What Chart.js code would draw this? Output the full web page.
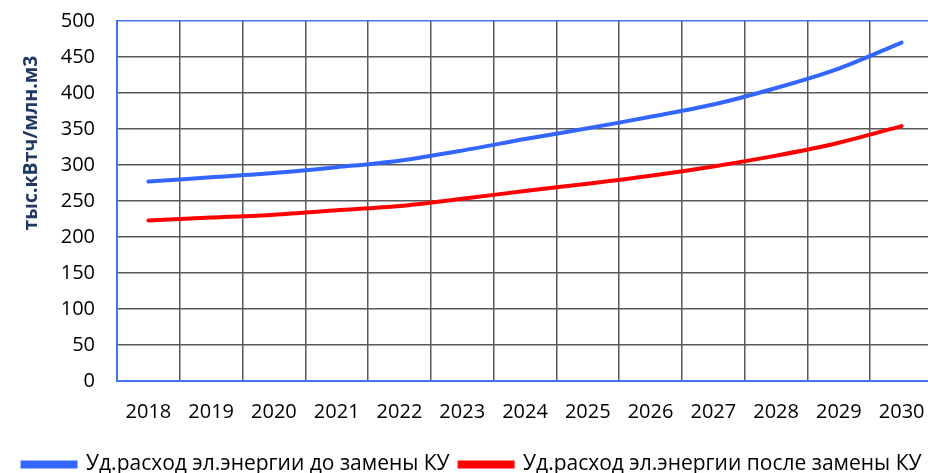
<!DOCTYPE html>
<html>
<head>
<meta charset="utf-8">
<script src="https://cdn.jsdelivr.net/npm/chart.js@4.4.0/dist/chart.umd.min.js"></script>
<style>
  html, body { margin: 0; padding: 0; background: #fff; overflow: hidden; }
  #wrap { width: 928px; height: 473px; overflow: hidden; }
  #grafico { display: block; margin-top: -13px; }
</style>
</head>
<body>
<div id="wrap"><canvas id="grafico" width="944" height="498"></canvas></div>
<script>
const anos = ['2018', '2019', '2020', '2021', '2022', '2023', '2024', '2025', '2026', '2027', '2028', '2029', '2030'];
const consumoAntes = [277, 283, 289, 297, 306, 320, 336, 351, 367, 384, 407, 434, 470];
const consumoDepois = [223, 227, 231, 237, 243, 253, 264, 274, 285, 298, 313, 331, 354];
const rotuloAntes = 'Уд.расход эл.энергии до замены КУ';
const rotuloDepois = 'Уд.расход эл.энергии после замены КУ';
const tituloY = 'тыс.кВтч/млн.м3';

const azulEixo = '#4472f0';
const cinzaGrade = '#595959';

// título do eixo Y desenhado à mão, fora do centro como no original
const tituloEixoY = {
    id: 'tituloEixoY',
    afterDraw(chart) {
        const ctx = chart.ctx;
        ctx.save();
        ctx.translate(31, 143 + 13);
        ctx.rotate(-Math.PI / 2);
        ctx.font = 'bold 19.5px "Open Sans"';
        ctx.fillStyle = '#203864';
        ctx.textAlign = 'center';
        ctx.textBaseline = 'middle';
        ctx.fillText(tituloY, 0, 0);
        ctx.restore();
    }
};

new Chart(document.getElementById('grafico').getContext('2d'), {
    type: 'line',
    data: {
        labels: anos,
        datasets: [{
            label: rotuloAntes,
            data: consumoAntes,
            borderColor: '#3366ff',
            backgroundColor: '#3366ff',
            borderWidth: 4,
            pointRadius: 0,
            tension: 0.3,
            borderCapStyle: 'round'
        }, {
            label: rotuloDepois,
            data: consumoDepois,
            borderColor: '#ff0000',
            backgroundColor: '#ff0000',
            borderWidth: 4,
            pointRadius: 0,
            tension: 0.3,
            borderCapStyle: 'round'
        }]
    },
    options: {
        responsive: false,
        animation: false,
        layout: { padding: { top: 0, right: 0, bottom: 0, left: 0 } },
        plugins: {
            tooltip: { enabled: false },
            legend: {
                position: 'bottom',
                labels: {
                    boxWidth: 53,
                    boxHeight: 4,
                    padding: 10,
                    color: '#000',
                    font: { family: 'Open Sans', size: 21 }
                }
            }
        },
        scales: {
            x: {
                offset: true,
                grid: { offset: true, color: cinzaGrade, lineWidth: 1.5, drawTicks: false },
                border: { color: azulEixo, width: 2 },
                ticks: { color: '#000', padding: 19.5, maxRotation: 0, font: { family: 'Open Sans', size: 20 } }
            },
            y: {
                min: 0,
                max: 500,
                afterFit(escala) { escala.width = 117; },
                grid: {
                    color: c => (c.tick && c.tick.value === 500 ? azulEixo : cinzaGrade),
                    lineWidth: 1.5,
                    drawTicks: false
                },
                border: { color: azulEixo, width: 2 },
                ticks: { stepSize: 50, color: '#000', padding: 22, font: { family: 'Open Sans', size: 20 } }
            }
        }
    },
    plugins: [tituloEixoY]
});
</script>
</body>
</html>
